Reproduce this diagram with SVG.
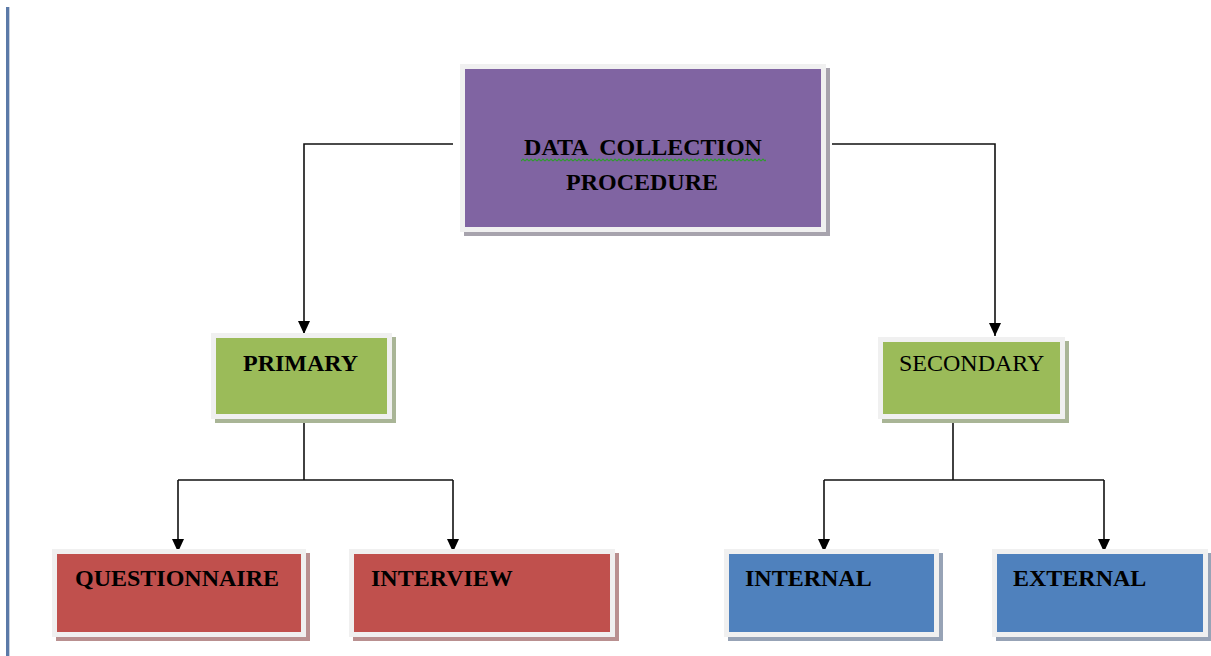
<svg xmlns="http://www.w3.org/2000/svg" width="1211" height="656" viewBox="0 0 1211 656">
  <style>
    .frame { fill: #f0f0f0; }
    .label { font-family: "Liberation Serif", "Times New Roman", serif; font-size: 24px; fill: #000; }
    .bold { font-weight: bold; }
    .wire { fill: none; stroke: #111; stroke-width: 1.6; }
  </style>
  <defs>
    <marker id="arrow" markerUnits="userSpaceOnUse" markerWidth="14" markerHeight="13" refX="13" refY="6.5" orient="auto" viewBox="0 0 14 13">
      <path d="M0 0.5 L13 6.5 L0 12.5 Z" fill="#000"/>
    </marker>
    <!-- spell-check style wavy underline -->
    <pattern id="squiggle" patternUnits="userSpaceOnUse" x="521" y="158" width="4" height="4">
      <path d="M0 3 L2 1 L4 3" fill="none" stroke="#2e9a2e" stroke-width="1.1"/>
    </pattern>
  </defs>

  <rect width="1211" height="656" fill="#fff"/>

  <!-- page margin rule -->
  <rect x="6" y="7" width="3" height="649" fill="#5b7aa8"/>
  <rect x="9" y="7" width="1" height="649" fill="#c9d1de"/>

  <!-- connectors -->
  <g id="connectors">
    <path class="wire" d="M453 144 H304 V334" marker-end="url(#arrow)"/>
    <path class="wire" d="M832 144 H995 V336" marker-end="url(#arrow)"/>
    <path class="wire" d="M304 419 V480"/>
    <path class="wire" d="M178 480 H453"/>
    <path class="wire" d="M178 480 V552" marker-end="url(#arrow)"/>
    <path class="wire" d="M453 480 V552" marker-end="url(#arrow)"/>
    <path class="wire" d="M953 419 V480"/>
    <path class="wire" d="M824 480 H1104"/>
    <path class="wire" d="M824 480 V552" marker-end="url(#arrow)"/>
    <path class="wire" d="M1104 480 V552" marker-end="url(#arrow)"/>
  </g>

  <!-- root -->
  <g id="data-collection">
    <rect x="464" y="68" width="366" height="168" fill="#a7a3ad"/>
    <rect class="frame" x="460" y="64" width="366" height="168"/>
    <rect x="465" y="69" width="356" height="158" fill="#8064a2"/>
    <text class="label bold" x="643" y="155" text-anchor="middle" word-spacing="6">DATA COLLECTION</text>
    <rect x="521" y="158" width="245" height="4" fill="url(#squiggle)"/>
    <text class="label bold" x="642" y="190" text-anchor="middle">PROCEDURE</text>
  </g>

  <!-- second level -->
  <g id="primary">
    <rect x="215" y="337" width="181" height="86" fill="#a9b596"/>
    <rect class="frame" x="211" y="333" width="181" height="86"/>
    <rect x="216" y="338" width="171" height="76" fill="#9bbb59"/>
    <text class="label bold" x="243" y="371">PRIMARY</text>
  </g>

  <g id="secondary">
    <rect x="882" y="341" width="187" height="82" fill="#a9b596"/>
    <rect class="frame" x="878" y="337" width="187" height="82"/>
    <rect x="883" y="342" width="177" height="72" fill="#9bbb59"/>
    <text class="label" x="899" y="371">SECONDARY</text>
  </g>

  <!-- leaves -->
  <g id="questionnaire">
    <rect x="56" y="553" width="254" height="88" fill="#b99090"/>
    <rect class="frame" x="52" y="549" width="254" height="88"/>
    <rect x="57" y="554" width="244" height="78" fill="#c0504d"/>
    <text class="label bold" x="75" y="586" font-size="23">QUESTIONNAIRE</text>
  </g>

  <g id="interview">
    <rect x="353" y="553" width="266" height="88" fill="#b99090"/>
    <rect class="frame" x="349" y="549" width="266" height="88"/>
    <rect x="354" y="554" width="256" height="78" fill="#c0504d"/>
    <text class="label bold" x="371" y="586">INTERVIEW</text>
  </g>

  <g id="internal">
    <rect x="728" y="553" width="215" height="88" fill="#97a3b6"/>
    <rect class="frame" x="724" y="549" width="215" height="88"/>
    <rect x="729" y="554" width="205" height="78" fill="#4f81bd"/>
    <text class="label bold" x="745" y="586">INTERNAL</text>
  </g>

  <g id="external">
    <rect x="996" y="553" width="216" height="88" fill="#97a3b6"/>
    <rect class="frame" x="992" y="549" width="216" height="88"/>
    <rect x="997" y="554" width="206" height="78" fill="#4f81bd"/>
    <text class="label bold" x="1013" y="586">EXTERNAL</text>
  </g>
</svg>
